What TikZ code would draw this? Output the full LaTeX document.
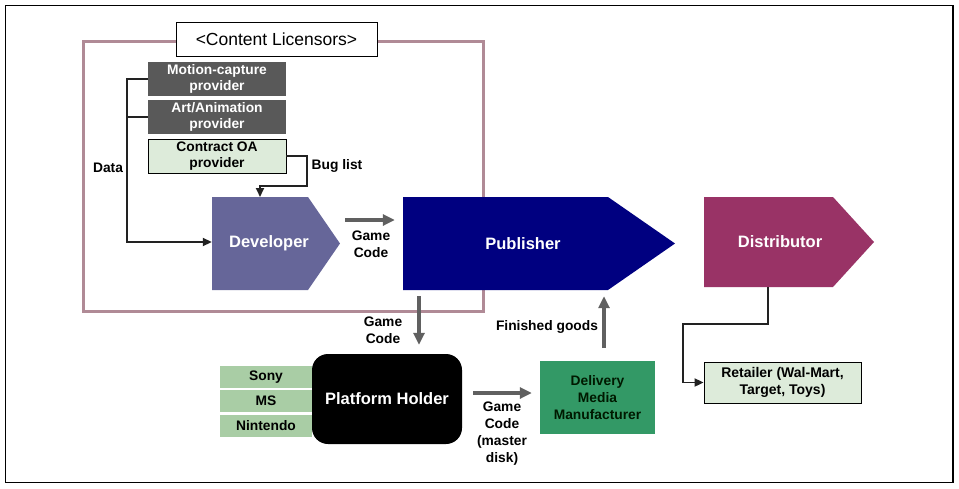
\documentclass[tikz,border=0pt]{standalone}
\usepackage{fontspec}
\setmainfont{Liberation Sans}
\usetikzlibrary{arrows.meta}
\definecolor{framecol}{HTML}{B08A96}
\definecolor{darkbox}{HTML}{595959}
\definecolor{lightgreen}{HTML}{DDEBDA}
\definecolor{sonygreen}{HTML}{A9CDA5}
\definecolor{devcol}{HTML}{666699}
\definecolor{pubcol}{HTML}{000080}
\definecolor{discol}{HTML}{993366}
\definecolor{dmmgreen}{HTML}{339966}
\definecolor{arrgray}{HTML}{606060}
\definecolor{lineblack}{HTML}{222222}
\begin{document}
\begin{tikzpicture}[x=1pt,y=-1pt,
  lbl/.style={font=\bfseries\fontsize{13.8}{17}\selectfont, align=center, inner sep=0pt, text=black},
  big/.style={font=\bfseries\fontsize{16.5}{20}\selectfont, text=white, inner sep=0pt, align=center},
  smallbox/.style={inner sep=0pt, minimum width=138pt, minimum height=34pt, align=center, font=\bfseries\fontsize{13.8}{16}\selectfont},
  grayarrow/.style={draw=arrgray, line width=3.5pt, -{Triangle[length=12pt,width=11pt]}},
  blackarrow/.style={draw=lineblack, line width=1.8pt, line join=miter, -{Triangle[length=9pt,width=8pt]}},
  blackline/.style={draw=lineblack, line width=1.8pt}]
\useasboundingbox (0,0) rectangle (959,488);
\draw[line width=1.5pt] (5.5,5.5) rectangle (953,482.5);

% content licensor frame
\draw[framecol, line width=3pt] (83,41.5) rectangle (483,311.5);

% chevrons
\fill[devcol] (212,197) -- (308,197) -- (340,243.5) -- (308,290) -- (212,290) -- cycle;
\fill[pubcol] (403,197) -- (608,197) -- (675,243.5) -- (608,290) -- (403,290) -- cycle;
\fill[discol] (704,197) -- (833,197) -- (874,242) -- (833,287) -- (704,287) -- cycle;
\node[big, minimum width=114pt, minimum height=93pt] (dev) at (269,243.5) {Developer};
\node[big, minimum width=240pt, minimum height=93pt] (pub) at (523,243.5) {Publisher};
\node[big, minimum width=152pt, minimum height=90pt] (dis) at (780,242) {Distributor};

% content licensors label
\node[draw=black, line width=1pt, fill=white, minimum width=201pt, minimum height=34pt, inner sep=0pt, font=\fontsize{17.5}{20}\selectfont] (cl) at (276.5,39) {<Content Licensors>};

% providers
\node[smallbox, fill=darkbox, text=white] (mocap) at (217,79) {Motion-capture\\provider};
\node[smallbox, fill=darkbox, text=white] (art) at (217,117) {Art/Animation\\provider};
\node[smallbox, fill=lightgreen, draw=black, line width=0.8pt, text=black] (oa) at (217,156) {Contract OA\\provider};

% data connector
\coordinate (dbot) at (127,242);
\draw[blackarrow] (mocap.west) -| (dbot) -- (dev.west |- dbot);
\draw[blackline] (art.west) -- (art.west -| dbot);
\node[lbl] (datal) at (108,168) {Data};

% bug list connector
\coordinate (bugc) at (307,186);
\coordinate (bugx) at (260,197);
\draw[blackarrow] (oa.east) -| (bugc) -| (bugx);
\node[lbl] (bugl) at (337,166) {Bug list};

% game code dev -> pub
\coordinate (gc1) at (345,220);
\draw[grayarrow, shorten >=8pt] (gc1) -- (pub.west |- gc1);
\node[lbl] (gcl1) at (371,244.5) {Game\\Code};

% platform holder
\node[fill=sonygreen, minimum width=92pt, minimum height=22pt, inner sep=0pt, lbl] (sony) at (266,377) {Sony};
\node[fill=sonygreen, minimum width=92pt, minimum height=22pt, inner sep=0pt, lbl] (ms) at (266,401) {MS};
\node[fill=sonygreen, minimum width=92pt, minimum height=22pt, inner sep=0pt, lbl] (nin) at (266,426) {Nintendo};
\node[fill=black, rounded corners=16pt, minimum width=150pt, minimum height=90pt, big] (ph) at (387,399) {Platform Holder};

% pub -> platform holder
\coordinate (pd1) at (419,296);
\draw[grayarrow, shorten >=9pt] (pd1) -- (pd1 |- ph.north);
\node[lbl] (gcl2) at (383,330.5) {Game\\Code};

% delivery media manufacturer
\node[fill=dmmgreen, minimum width=115pt, minimum height=73pt, inner sep=0pt, lbl, text=black!90!green] (dmm) at (597.5,397.5) {Delivery\\Media\\Manufacturer};
\coordinate (md1) at (473,393);
\draw[grayarrow, shorten >=8pt] (md1) -- (md1 -| dmm.west);
\node[lbl] (gcl3) at (502,433.5) {Game\\Code\\(master\\disk)};

% finished goods
\coordinate (fg1) at (604,348);
\draw[grayarrow, shorten >=6pt] (fg1) -- (fg1 |- pub.south);
\node[lbl] (fgl) at (547,327) {Finished goods};

% retailer
\node[fill=lightgreen, draw=black, line width=0.8pt, minimum width=157pt, minimum height=41pt, inner sep=0pt, align=center, font=\bfseries\fontsize{14}{17}\selectfont] (ret) at (782.5,382.5) {Retailer (Wal-Mart,\\Target, Toys)};
\coordinate (dc) at (768,324);
\coordinate (dl) at (683,382.5);
\draw[blackarrow] (dc |- dis.south) -- (dc) -| (dl) -- (ret.west);
\end{tikzpicture}
\end{document}
